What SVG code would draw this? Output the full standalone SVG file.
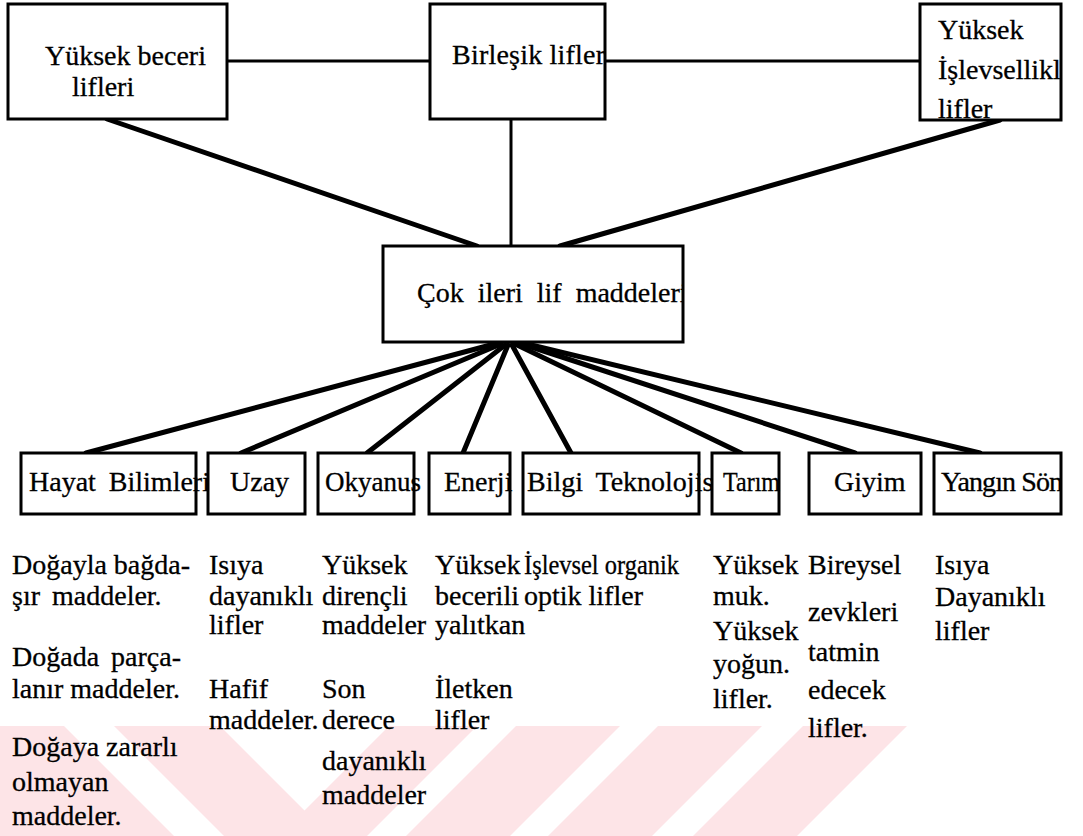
<svg xmlns="http://www.w3.org/2000/svg" width="1083" height="836" viewBox="0 0 1083 836">
<style>
.bg{fill:#ffffff}
.wm{fill:#fde4e7}
.box{fill:#ffffff;stroke:#000000;stroke-width:3}
.lbl{font-family:"Liberation Serif","Times New Roman",serif;font-size:28px;fill:#000000;stroke:#000000;stroke-width:0.3}
.desc{font-family:"Liberation Serif","Times New Roman",serif;font-size:28px;fill:#000000;stroke:#000000;stroke-width:0.3}
.thin{stroke:#000000;stroke-width:3;fill:none}
.thick{stroke:#000000;stroke-width:5;fill:none;stroke-linecap:round}
</style>
<defs>
<clipPath id="clipTR"><rect x="920" y="4" width="141" height="116"/></clipPath>
<clipPath id="clipC"><rect x="383" y="246" width="300" height="96"/></clipPath>
<clipPath id="clipY"><rect x="934" y="453" width="127" height="61"/></clipPath>
</defs>
<rect class="bg" x="0" y="0" width="1083" height="836"/>
<g id="watermark">
<polygon class="wm" points="0,726 64,726 174,836 0,836"/>
<polygon class="wm" points="114,726 220,726 330,836 224,836"/>
<polygon class="wm" points="389,726 477,726 367,836 279,836"/>
<polygon class="wm" points="516,726 620,726 510,836 406,836"/>
<polygon class="wm" points="658,726 762,726 652,836 548,836"/>
<polygon class="wm" points="803,726 907,726 797,836 693,836"/>
</g>
<g id="connectors">
<line class="thin" x1="227" y1="61" x2="430" y2="61"/>
<line class="thin" x1="605" y1="61" x2="920" y2="61"/>
<line class="thin" x1="511" y1="119" x2="511" y2="246"/>
<line class="thick" x1="107" y1="119" x2="477" y2="246"/>
<line class="thick" x1="1000" y1="120" x2="560" y2="246"/>
<line class="thick" x1="498" y1="343" x2="86" y2="453"/>
<line class="thick" x1="501" y1="344" x2="241" y2="453"/>
<line class="thick" x1="505" y1="345" x2="367" y2="453"/>
<line class="thick" x1="508" y1="345" x2="463" y2="453"/>
<line class="thick" x1="512" y1="345" x2="571" y2="453"/>
<line class="thick" x1="515" y1="344" x2="741" y2="453"/>
<line class="thick" x1="519" y1="343" x2="855" y2="453"/>
<line class="thick" x1="523" y1="343" x2="980" y2="453"/>
</g>
<g id="n-yuksek-beceri">
<rect class="box" x="8" y="4" width="219" height="115"/>
<text class="lbl" x="45" y="65">Yüksek beceri</text>
<text class="lbl" x="72" y="96">lifleri</text>
</g>
<g id="n-birlesik">
<rect class="box" x="430" y="4" width="175" height="115"/>
<text class="lbl" x="452" y="64" textLength="153" lengthAdjust="spacing">Birleşik lifler</text>
</g>
<g id="n-yuksek-islevsellikli">
<rect class="box" x="920" y="4" width="141" height="116"/>
<g clip-path="url(#clipTR)">
<text class="lbl" x="938" y="39">Yüksek</text>
<text class="lbl" x="938" y="79">İşlevsellikli</text>
<text class="lbl" x="938" y="118">lifler</text>
</g>
</g>
<g id="n-cok-ileri">
<rect class="box" x="383" y="246" width="300" height="96"/>
<text class="lbl" x="417" y="302" clip-path="url(#clipC)" word-spacing="7">Çok ileri lif maddeleri</text>
</g>
<g id="n-hayat">
<rect class="box" x="21" y="453" width="175" height="61"/>
<text class="lbl" x="29" y="491" word-spacing="6">Hayat Bilimleri</text>
</g>
<g id="n-uzay">
<rect class="box" x="208" y="453" width="97" height="61"/>
<text class="lbl" x="230" y="491">Uzay</text>
</g>
<g id="n-okyanus">
<rect class="box" x="318" y="453" width="96" height="61"/>
<text class="lbl" x="325" y="491" textLength="96" lengthAdjust="spacingAndGlyphs">Okyanus</text>
</g>
<g id="n-enerji">
<rect class="box" x="429" y="453" width="81" height="61"/>
<text class="lbl" x="444" y="491">Enerji</text>
</g>
<g id="n-bilgi">
<rect class="box" x="523" y="453" width="176" height="61"/>
<text class="lbl" x="527" y="491" word-spacing="6">Bilgi Teknolojis</text>
</g>
<g id="n-tarim">
<rect class="box" x="712" y="453" width="67" height="61"/>
<text class="lbl" x="723" y="491" textLength="57" lengthAdjust="spacingAndGlyphs">Tarım</text>
</g>
<g id="n-giyim">
<rect class="box" x="809" y="453" width="112" height="61"/>
<text class="lbl" x="834" y="491">Giyim</text>
</g>
<g id="n-yangin">
<rect class="box" x="934" y="453" width="127" height="61"/>
<text class="lbl" x="941" y="491" clip-path="url(#clipY)" textLength="122" lengthAdjust="spacing">Yangın Sön</text>
</g>
<g id="descriptions">
<g id="d-hayat">
<text class="desc" x="12" y="574">Doğayla bağda-</text>
<text class="desc" x="12" y="605" word-spacing="5">şır maddeler.</text>
<text class="desc" x="12" y="666" word-spacing="5">Doğada parça-</text>
<text class="desc" x="12" y="698">lanır maddeler.</text>
<text class="desc" x="12" y="756">Doğaya zararlı</text>
<text class="desc" x="12" y="791">olmayan</text>
<text class="desc" x="12" y="825">maddeler.</text>
</g>
<g id="d-uzay">
<text class="desc" x="209" y="574">Isıya</text>
<text class="desc" x="209" y="605">dayanıklı</text>
<text class="desc" x="209" y="634">lifler</text>
<text class="desc" x="209" y="698">Hafif</text>
<text class="desc" x="209" y="729">maddeler.</text>
</g>
<g id="d-okyanus">
<text class="desc" x="322" y="574">Yüksek</text>
<text class="desc" x="322" y="605">dirençli</text>
<text class="desc" x="322" y="634">maddeler</text>
<text class="desc" x="322" y="698">Son</text>
<text class="desc" x="322" y="729">derece</text>
<text class="desc" x="322" y="770">dayanıklı</text>
<text class="desc" x="322" y="804">maddeler</text>
</g>
<g id="d-enerji">
<text class="desc" x="435" y="574">Yüksek</text>
<text class="desc" x="435" y="605">becerili</text>
<text class="desc" x="435" y="634">yalıtkan</text>
<text class="desc" x="435" y="698">İletken</text>
<text class="desc" x="435" y="729">lifler</text>
</g>
<g id="d-bilgi">
<text class="desc" x="524" y="574" textLength="155" lengthAdjust="spacingAndGlyphs">İşlevsel organik</text>
<text class="desc" x="524" y="605">optik lifler</text>
</g>
<g id="d-tarim">
<text class="desc" x="713" y="574">Yüksek</text>
<text class="desc" x="713" y="605">muk.</text>
<text class="desc" x="713" y="640">Yüksek</text>
<text class="desc" x="713" y="673">yoğun.</text>
<text class="desc" x="713" y="708">lifler.</text>
</g>
<g id="d-giyim">
<text class="desc" x="808" y="574">Bireysel</text>
<text class="desc" x="808" y="621">zevkleri</text>
<text class="desc" x="808" y="661">tatmin</text>
<text class="desc" x="808" y="699">edecek</text>
<text class="desc" x="808" y="737">lifler.</text>
</g>
<g id="d-yangin">
<text class="desc" x="935" y="574">Isıya</text>
<text class="desc" x="935" y="606">Dayanıklı</text>
<text class="desc" x="935" y="640">lifler</text>
</g>
</g>
</svg>
